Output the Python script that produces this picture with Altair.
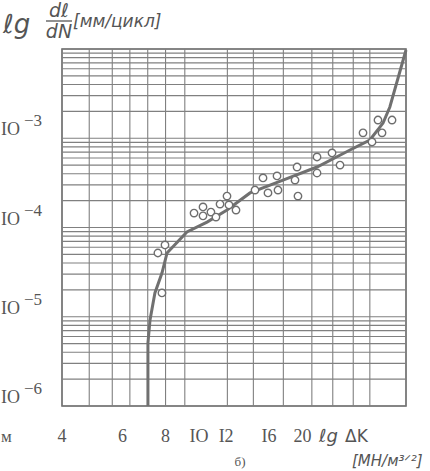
import altair as alt
import pandas as pd

# ---- data ----
pt_dk = [7.81, 7.60, 7.97, 9.68, 10.28, 10.28, 10.84, 11.21, 11.52, 12.07, 12.23, 12.82,
         14.56, 15.36, 15.88, 16.87, 16.98, 19.29, 19.03, 19.41, 22.05, 22.05, 24.38, 25.72,
         30.0, 31.86, 33.16, 36.43, 34.07]
pt_rate = [1.85e-5, 5.18e-5, 6.37e-5, 1.45e-4, 1.70e-4, 1.35e-4, 1.49e-4, 1.31e-4, 1.83e-4,
           2.25e-4, 1.79e-4, 1.57e-4, 2.63e-4, 3.59e-4, 2.44e-4, 3.78e-4, 2.63e-4, 4.76e-4,
           3.40e-4, 2.25e-4, 6.17e-4, 4.08e-4, 6.84e-4, 5.01e-4, 1.15e-3, 9.08e-4, 1.60e-3,
           1.60e-3, 1.15e-3]

curve_dk = [7.11, 7.11, 7.21, 7.45, 7.81, 8.08, 9.23, 10.56, 12.07, 14.08, 17.56, 22.05,
            27.5, 31.4, 34.3, 35.9, 40.0]
curve_rate = [1e-6, 5.08e-6, 9.2e-6, 1.85e-5, 3.09e-5, 5.18e-5, 8.91e-5, 1.15e-4, 1.57e-4,
              2.44e-4, 3.40e-4, 4.76e-4, 7.38e-4, 9.55e-4, 1.48e-3, 2.24e-3, 9.75e-3]

x_tick_vals = [4, 6, 8, 10, 12, 16, 20]
x_tick_text = ["4", "6", "8", "IO", "I2", "I6", "20"]
y_tick_vals = [1e-3, 1e-4, 1e-5, 1e-6]
y_tick_exp = ["−3", "−4", "−5", "−6"]

# graph-paper lines
v_grid = [4.8, 5.6, 6.3, 7.1, 8.0, 9.1, 12.1, 14.4, 17.6, 21.3, 24.5, 28.1, 31.4]
h_grid = [k * 10.0 ** n for n in (-6, -5, -4, -3) for k in range(1, 10)] + [1e-2]

# ---- layout ----
PL, PT, W, H = 62, 49, 344, 357
INK = "#666666"
xs = alt.Scale(type="log", domain=[4, 40])
ys = alt.Scale(type="log", domain=[1e-6, 1e-2])

pts = pd.DataFrame({"dk": pt_dk, "rate": pt_rate})
crv = pd.DataFrame({"dk": curve_dk, "rate": curve_rate, "i": list(range(len(curve_dk)))})
xt = pd.DataFrame({"dk": x_tick_vals, "t": x_tick_text})
yt = pd.DataFrame({"rate": y_tick_vals, "e": y_tick_exp})
vg = pd.DataFrame({"dk": v_grid})
hg = pd.DataFrame({"rate": h_grid})
dummy = pd.DataFrame({"a": [0]})

hgrid = alt.Chart(hg).mark_rule(color="#808080", strokeWidth=1.1).encode(
    y=alt.Y("rate:Q", scale=ys, axis=None))
vgrid = alt.Chart(vg).mark_rule(color="#808080", strokeWidth=1.1).encode(
    x=alt.X("dk:Q", scale=xs, axis=None))

curve = alt.Chart(crv).mark_line(color="#707070", strokeWidth=3, interpolate="linear").encode(
    x=alt.X("dk:Q", scale=xs, axis=None),
    y=alt.Y("rate:Q", scale=ys, axis=None),
    order="i:Q")

points = alt.Chart(pts).mark_point(shape="circle", filled=True, fill="white", stroke="#6e6e6e",
                                   strokeWidth=1.4, size=55, opacity=1).encode(
    x=alt.X("dk:Q", scale=xs, axis=None),
    y=alt.Y("rate:Q", scale=ys, axis=None))

serif = "Liberation Serif"
xlab = alt.Chart(xt).mark_text(font=serif, fontSize=18, color="#555555", baseline="middle").encode(
    x=alt.X("dk:Q", scale=xs, axis=None), y=alt.value(437 - PT), text="t:N")

ybase = alt.Chart(yt).mark_text(text="IO", font=serif, fontSize=18, color="#555555",
                                align="left", baseline="alphabetic", dy=-3).encode(
    y=alt.Y("rate:Q", scale=ys, axis=None), x=alt.value(1 - PL))
yexp = alt.Chart(yt).mark_text(font=serif, fontSize=17, color="#555555",
                               align="left", baseline="alphabetic", dy=-12).encode(
    y=alt.Y("rate:Q", scale=ys, axis=None), x=alt.value(24 - PL), text="e:N")


def note(txt, px, py, size=16, align="left", style="italic", font="DejaVu Sans", base="middle"):
    return alt.Chart(dummy).mark_text(text=txt, fontSize=size, align=align, fontStyle=style,
                                      font=font, color="#555555", baseline=base).encode(
        x=alt.value(px - PL), y=alt.value(py - PT))


bar = alt.Chart(dummy).mark_rule(color="#555555", strokeWidth=1.3).encode(
    x=alt.value(46 - PL), x2=alt.value(72 - PL), y=alt.value(21 - PT))

notes = [
    note("ℓg", 3, 25, size=26),
    note("dℓ", 59, 11, size=19, align="center"),
    note("dN", 59, 32, size=19, align="center"),
    note("[мм/цикл]", 73, 22, size=17),
    note("м", 1, 437, size=17, style="normal", font=serif),
    note("ℓg", 319, 437, size=18),
    note("ΔK", 345, 437, size=17, style="normal"),
    note("[МН/м³ᐟ²]", 352, 461, size=15),
    note("б)", 240, 462, size=13, align="center", style="normal", font=serif),
]

chart = alt.layer(hgrid, vgrid, curve, points, xlab, ybase, yexp, bar, *notes).properties(
    width=W, height=H,
    autosize=alt.AutoSizeParams(type="none"),
    padding={"left": PL, "top": PT, "right": 430 - PL - W, "bottom": 471 - PT - H},
    background="white",
).configure_view(stroke=INK, strokeWidth=1.6)

chart.save("out.html", embed_options={"renderer": "svg", "actions": False})
